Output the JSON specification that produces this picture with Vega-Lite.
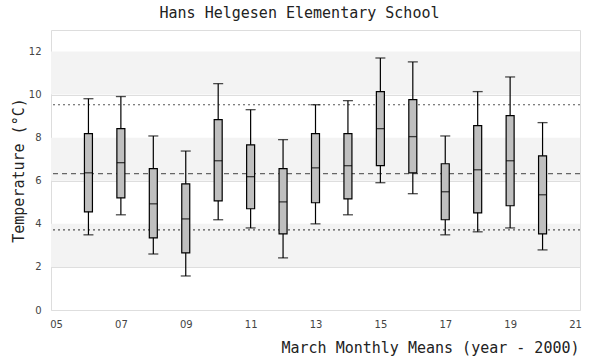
{
  "$schema": "https://vega.github.io/schema/vega-lite/v6.json",
  "autosize": "none",
  "width": 529,
  "height": 280,
  "padding": {"left": 51, "top": 30, "right": 20, "bottom": 50},
  "background": "white",
  "title": {
    "text": "Hans Helgesen Elementary School",
    "font": "DejaVu Sans Mono",
    "fontSize": 15,
    "fontWeight": "normal",
    "color": "#222",
    "anchor": "middle",
    "dx": -16,
    "offset": 9
  },
  "config": {
    "view": {"stroke": "#dddddd", "strokeWidth": 1},
    "axis": {
      "labelFont": "DejaVu Sans",
      "labelFontSize": 10,
      "labelColor": "#444",
      "ticks": false,
      "domain": false
    }
  },
  "datasets": {
    "boxes": [
      {"year": 6, "lo": 3.49, "q1": 4.56, "med": 6.37, "q3": 8.19, "hi": 9.81},
      {"year": 7, "lo": 4.42, "q1": 5.21, "med": 6.84, "q3": 8.42, "hi": 9.91},
      {"year": 8, "lo": 2.60, "q1": 3.35, "med": 4.93, "q3": 6.56, "hi": 8.08},
      {"year": 9, "lo": 1.58, "q1": 2.65, "med": 4.23, "q3": 5.86, "hi": 7.38},
      {"year": 10, "lo": 4.19, "q1": 5.07, "med": 6.93, "q3": 8.84, "hi": 10.51},
      {"year": 11, "lo": 3.81, "q1": 4.70, "med": 6.19, "q3": 7.67, "hi": 9.30},
      {"year": 12, "lo": 2.42, "q1": 3.53, "med": 5.02, "q3": 6.56, "hi": 7.91},
      {"year": 13, "lo": 4.00, "q1": 4.98, "med": 6.60, "q3": 8.19, "hi": 9.53},
      {"year": 14, "lo": 4.42, "q1": 5.16, "med": 6.70, "q3": 8.19, "hi": 9.72},
      {"year": 15, "lo": 5.91, "q1": 6.70, "med": 8.42, "q3": 10.14, "hi": 11.70},
      {"year": 16, "lo": 5.40, "q1": 6.37, "med": 8.05, "q3": 9.77, "hi": 11.52},
      {"year": 17, "lo": 3.49, "q1": 4.19, "med": 5.49, "q3": 6.79, "hi": 8.08},
      {"year": 18, "lo": 3.63, "q1": 4.51, "med": 6.51, "q3": 8.56, "hi": 10.14},
      {"year": 19, "lo": 3.81, "q1": 4.84, "med": 6.93, "q3": 9.02, "hi": 10.82},
      {"year": 20, "lo": 2.79, "q1": 3.53, "med": 5.35, "q3": 7.16, "hi": 8.70}
    ],
    "bands": [
      {"from": 2, "to": 4},
      {"from": 6, "to": 8},
      {"from": 10, "to": 12}
    ],
    "mean": [{"v": 6.33}],
    "spread": [{"v": 9.53}, {"v": 3.72}]
  },
  "layer": [
    {
      "data": {"name": "bands"},
      "mark": {"type": "rect", "color": "#f3f3f3"},
      "encoding": {
        "y": {
          "field": "from", "type": "quantitative",
          "scale": {"domain": [0, 13], "nice": false, "zero": true},
          "axis": {
            "values": [0, 2, 4, 6, 8, 10, 12],
            "grid": true, "gridColor": "#dedede", "gridWidth": 1,
            "labelPadding": 10,
            "title": "Temperature (°C)",
            "titleFont": "DejaVu Sans Mono",
            "titleFontSize": 15,
            "titleFontWeight": "normal",
            "titleColor": "#222",
            "titleAngle": -90,
            "titleX": -33,
            "titleY": 140,
            "titleAlign": "center",
            "titleBaseline": "middle"
          }
        },
        "y2": {"field": "to"}
      }
    },
    {
      "data": {"name": "mean"},
      "mark": {"type": "rule", "color": "#666", "strokeWidth": 1.2, "strokeDash": [5, 4]},
      "encoding": {"y": {"field": "v", "type": "quantitative"}}
    },
    {
      "data": {"name": "spread"},
      "mark": {"type": "rule", "color": "#555", "strokeWidth": 1.2, "strokeDash": [2, 3]},
      "encoding": {"y": {"field": "v", "type": "quantitative"}}
    },
    {
      "data": {"name": "boxes"},
      "mark": {"type": "rule", "color": "black", "strokeWidth": 1.2},
      "encoding": {
        "x": {
          "field": "year", "type": "quantitative",
          "scale": {"domain": [5, 21], "nice": false, "zero": false},
          "axis": {
            "values": [5, 7, 9, 11, 13, 15, 17, 19, 21],
            "grid": false,
            "labelPadding": 9,
            "labelExpr": "datum.value < 10 ? '0' + datum.value : '' + datum.value",
            "title": "March Monthly Means (year - 2000)",
            "titleFont": "DejaVu Sans Mono",
            "titleFontSize": 15,
            "titleFontWeight": "normal",
            "titleColor": "#222",
            "titleX": 528,
            "titleY": 37,
            "titleAlign": "right",
            "titleBaseline": "middle"
          }
        },
        "y": {"field": "lo", "type": "quantitative"},
        "y2": {"field": "hi"}
      }
    },
    {
      "data": {"name": "boxes"},
      "mark": {"type": "tick", "orient": "horizontal", "color": "black", "size": 10, "thickness": 1.3},
      "encoding": {
        "x": {"field": "year", "type": "quantitative"},
        "y": {"field": "hi", "type": "quantitative"}
      }
    },
    {
      "data": {"name": "boxes"},
      "mark": {"type": "tick", "orient": "horizontal", "color": "black", "size": 10, "thickness": 1.3},
      "encoding": {
        "x": {"field": "year", "type": "quantitative"},
        "y": {"field": "lo", "type": "quantitative"}
      }
    },
    {
      "data": {"name": "boxes"},
      "mark": {"type": "bar", "orient": "vertical", "size": 8, "fill": "#bfbfbf", "stroke": "black", "strokeWidth": 1.2},
      "encoding": {
        "x": {"field": "year", "type": "quantitative"},
        "y": {"field": "q1", "type": "quantitative"},
        "y2": {"field": "q3"}
      }
    },
    {
      "data": {"name": "boxes"},
      "mark": {"type": "tick", "orient": "horizontal", "color": "black", "size": 8, "thickness": 1.3},
      "encoding": {
        "x": {"field": "year", "type": "quantitative"},
        "y": {"field": "med", "type": "quantitative"}
      }
    }
  ]
}
